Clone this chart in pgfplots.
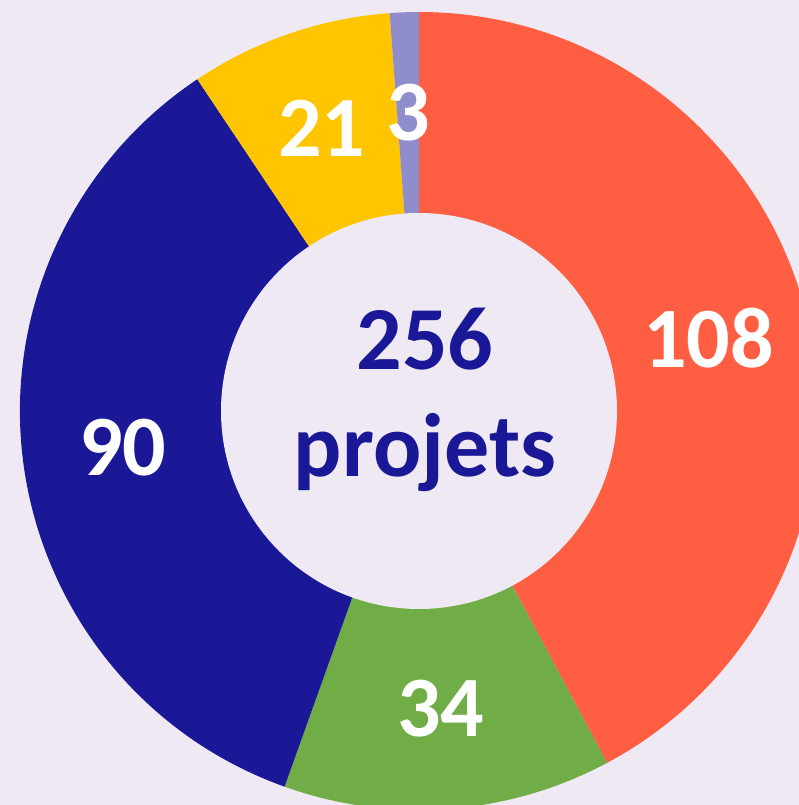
\documentclass[border=0pt]{standalone}
\usepackage{pgfplots}
\pgfplotsset{compat=1.18}
\usepackage{fontspec}
\setmainfont{Carlito}
\definecolor{bg}{RGB}{239,233,244}
\definecolor{cred}{RGB}{255,94,66}
\definecolor{cgreen}{RGB}{112,173,71}
\definecolor{cnavy}{RGB}{26,24,150}
\definecolor{cyellow}{RGB}{255,197,0}
\definecolor{clav}{RGB}{143,141,204}
\begin{document}
\begin{tikzpicture}
% data values (clockwise from top)
\def\vA{108}\def\vB{34}\def\vC{90}\def\vD{21}\def\vE{3}
\pgfmathsetmacro\tot{\vA+\vB+\vC+\vD+\vE}
\pgfmathsetmacro\aO{90}
\pgfmathsetmacro\aA{\aO-\vA/\tot*360}
\pgfmathsetmacro\aB{\aA-\vB/\tot*360}
\pgfmathsetmacro\aC{\aB-\vC/\tot*360}
\pgfmathsetmacro\aD{\aC-\vD/\tot*360}
\pgfmathsetmacro\aE{\aD-\vE/\tot*360}
\pgfmathsetmacro\mA{(\aO+\aA)/2}
\pgfmathsetmacro\mB{(\aA+\aB)/2}
\pgfmathsetmacro\mC{(\aB+\aC)/2}
\pgfmathsetmacro\mD{(\aC+\aD)/2}
\pgfmathsetmacro\mE{(\aD+\aE)/2}
\path[use as bounding box] (0,0) rectangle (399.5pt,402.5pt);
\clip (0,0) rectangle (399.5pt,402.5pt);
\fill[bg] (0,0) rectangle (399.5pt,402.5pt);
\begin{axis}[x=0.5pt,y=0.5pt,xmin=0,xmax=799,ymin=0,ymax=805,hide axis,clip=true]
\newcommand\slice[3]{\fill[#3] (axis cs:419,394) -- ++(#1:199.5pt) arc[start angle=#1,end angle=#2,radius=199.5pt] -- cycle;}
\slice{\aO}{\aA}{cred}
\slice{\aA}{\aB}{cgreen}
\slice{\aB}{\aC}{cnavy}
\slice{\aC}{\aD}{cyellow}
\slice{\aD}{\aE}{clav}
\fill[bg] (axis cs:419,394) circle[radius=99pt];
\newcommand\lab[2]{\path (axis cs:419,394) ++(#1:149.25pt) node[inner sep=0pt,text=white,font=\bfseries\fontsize{43pt}{43pt}\selectfont] {#2};}
\lab{\mA}{\vA}
\lab{\mB}{\vB}
\lab{\mC}{\vC}
\lab{\mD}{\vD}
\lab{\mE}{\vE}
\node[anchor=base,inner sep=0pt,text=cnavy,font=\bfseries\fontsize{45pt}{45pt}\selectfont] at (axis cs:425,435) {256};
\node[anchor=base,inner sep=0pt,text=cnavy,font=\bfseries\fontsize{45pt}{45pt}\selectfont] at (axis cs:425,328) {projets};
\end{axis}
\end{tikzpicture}
\end{document}
